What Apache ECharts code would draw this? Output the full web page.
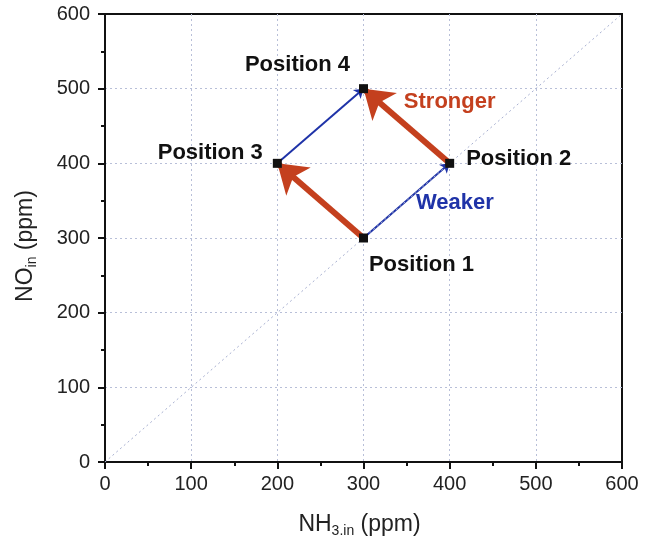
<!DOCTYPE html>
<html><head><meta charset="utf-8">
<script src="https://cdn.jsdelivr.net/npm/echarts@6/dist/echarts.min.js"></script>
<style>html,body{margin:0;padding:0;background:#fff}#c{width:645px;height:550px}</style>
</head><body><div id="c"></div>
<script>
const positionNames = ['Position 1','Position 2','Position 3','Position 4'];
const positionNH3 = [300, 400, 200, 300];
const positionNO = [300, 400, 400, 500];
const weakerPaths = [[0,1],[2,3]];
const strongerPaths = [[0,2],[1,3]];
const diagonal = [[0,0],[600,600]];
const annotations = [{text:'Stronger', x:400, y:482, color:'#c4401e'},{text:'Weaker', x:406, y:347, color:'#1f33a8'}];

const labelCfg = [
  {position:'bottom', offset:[58,6]},
  {position:'right', offset:[7,-4]},
  {position:'left', offset:[-5,-10]},
  {position:'top', offset:[-66,-3]}
];
const lblFont = {fontFamily:'Liberation Sans', fontWeight:'bold', fontSize:22};
const pts = positionNames.map((n,i)=>({
  value:[positionNH3[i], positionNO[i]], name:n,
  label:Object.assign({show:true, formatter:n, position:labelCfg[i].position, offset:labelCfg[i].offset, color:'#111'}, lblFont)
}));
const mkLines = (paths)=>paths.map(p=>({coords:[[positionNH3[p[0]],positionNO[p[0]]],[positionNH3[p[1]],positionNO[p[1]]]]}));

const chart = echarts.init(document.getElementById('c'));
const nameRich = {a:{fontFamily:'Liberation Sans', fontSize:23, color:'#222'}, s:{fontFamily:'Liberation Sans', fontSize:14, color:'#222', verticalAlign:'bottom', padding:[12,0,0,0]}};
const axisCommon = {
  type:'value', min:0, max:600, interval:100,
  axisLine:{show:true, onZero:false, lineStyle:{color:'#111', width:2}},
  axisTick:{show:true, inside:false, length:7, lineStyle:{color:'#111', width:2}},
  minorTick:{show:true, splitNumber:2, length:4, lineStyle:{color:'#111', width:2}},
  axisLabel:{fontFamily:'Liberation Sans', fontSize:20, color:'#222'},
  splitLine:{show:true, showMinLine:false, showMaxLine:false, lineStyle:{color:'#b8bfd8', type:[2,3], width:1}},
  nameLocation:'middle'
};
chart.setOption({
  animation:false,
  grid:{left:105, right:23, top:14, bottom:88, show:true, borderColor:'#111', borderWidth:2},
  xAxis:Object.assign({}, axisCommon, {name:'{a|NH}{s|3.in}{a| (ppm)}', nameGap:50,
    nameTextStyle:{rich:nameRich, padding:[0,8,0,0]},
    axisLabel:Object.assign({}, axisCommon.axisLabel, {margin:12})}),
  yAxis:Object.assign({}, axisCommon, {name:'{a|NO}{s|in}{a| (ppm)}', nameGap:66,
    nameTextStyle:{rich:nameRich, padding:[0,16,0,0]},
    axisLabel:Object.assign({}, axisCommon.axisLabel, {margin:15})}),
  series:[
    {type:'line', data:diagonal, symbol:'none', silent:true, lineStyle:{color:'#a8b0d0', width:1, type:[2,3]}},
    {type:'lines', coordinateSystem:'cartesian2d', data:mkLines(weakerPaths), symbol:['none','arrow'], symbolSize:9,
      lineStyle:{color:'#1f33a8', width:2, opacity:1}},
    {type:'lines', coordinateSystem:'cartesian2d', data:mkLines(strongerPaths), symbol:['none','arrow'], symbolSize:28,
      lineStyle:{color:'#c4401e', width:6, opacity:1}},
    {type:'scatter', data:pts, symbol:'rect', symbolSize:9, itemStyle:{color:'#111', opacity:1}, z:5},
    {type:'scatter', data:annotations.map(a=>({value:[a.x,a.y], label:Object.assign({show:true, formatter:a.text, position:'inside', color:a.color}, lblFont)})),
      symbolSize:1, itemStyle:{color:'transparent', opacity:1}, silent:true}
  ]
});
</script></body></html>
